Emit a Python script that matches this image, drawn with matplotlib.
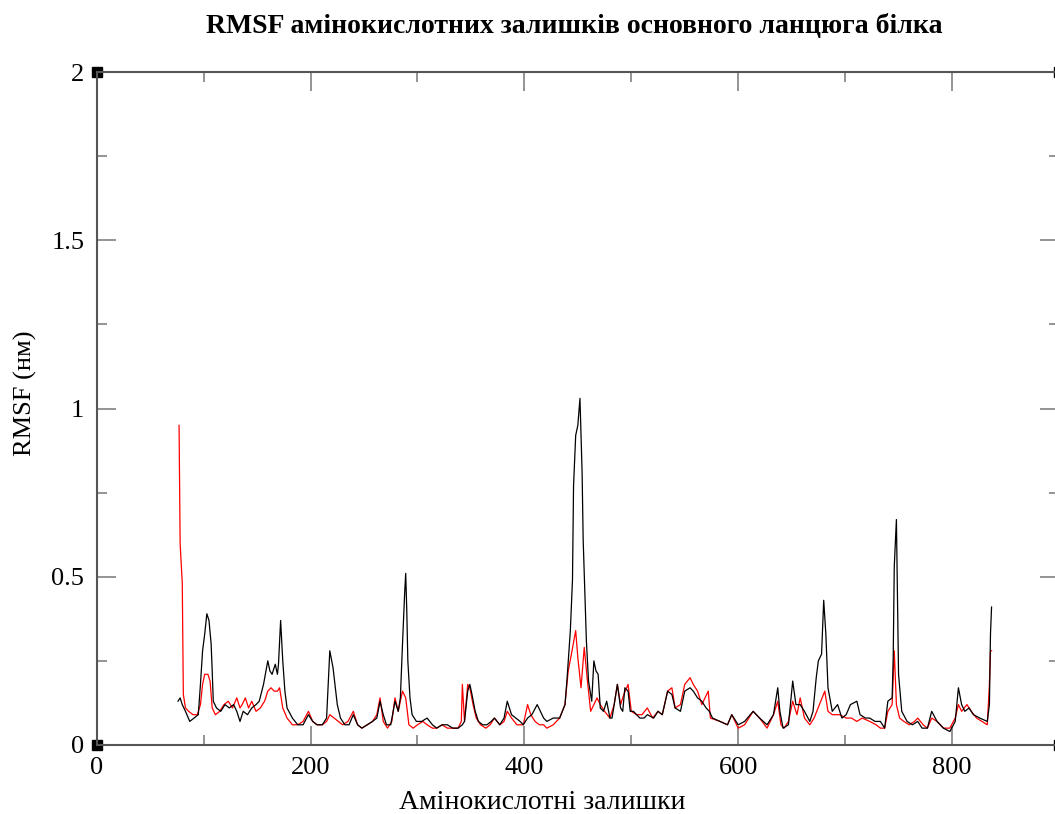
import matplotlib
matplotlib.use('Agg')
import matplotlib.pyplot as plt
from matplotlib.ticker import MultipleLocator, FuncFormatter

plt.rcParams['font.family'] = ['Liberation Serif', 'DejaVu Serif']

# RMSF, чорна крива (номер залишку, нм)
res_black = [76, 78, 80, 83, 87, 91, 95, 97, 99, 101, 103, 105, 107, 108, 109, 112, 116, 120, 124,
             128, 131, 134, 137, 141, 145, 149, 152, 156, 160, 162, 164, 167, 169, 170, 172, 174,
             176, 178, 183, 188, 193, 198, 202, 206, 211, 215, 218, 221, 225, 228, 232, 236, 240,
             244, 248, 253, 258, 262, 265, 268, 271, 275, 279, 282, 284, 286, 288, 289, 290, 291,
             293, 295, 299, 304, 309, 314, 318, 323, 328, 333, 338, 342, 344, 347, 349, 351, 354,
             357, 361, 365, 369, 372, 377, 381, 384, 388, 392, 396, 399, 403, 407, 412, 415, 418,
             421, 427, 433, 438, 440, 443, 445, 446, 448, 450, 452, 454, 455, 458, 460, 463, 465,
             467, 469, 471, 474, 477, 480, 482, 487, 490, 492, 494, 497, 499, 502, 508, 512, 515,
             521, 525, 529, 534, 538, 541, 546, 550, 555, 558, 562, 566, 570, 573, 576, 583, 590,
             594, 600, 606, 614, 620, 627, 633, 637, 639, 642, 647, 651, 654, 658, 662, 667, 670,
             673, 675, 678, 680, 682, 684, 688, 693, 697, 701, 705, 711, 714, 719, 723, 728, 733,
             737, 740, 744, 745, 746, 748, 749, 750, 753, 758, 763, 768, 772, 777, 781, 786, 792,
             798, 803, 806, 809, 812, 816, 820, 826, 833, 835, 836, 837]
rmsf_black = [0.13, 0.14, 0.12, 0.10, 0.07, 0.08, 0.09, 0.18, 0.28, 0.33, 0.39, 0.37, 0.30, 0.22,
              0.13, 0.11, 0.10, 0.12, 0.11, 0.12, 0.10, 0.07, 0.10, 0.09, 0.11, 0.12, 0.13, 0.18,
              0.25, 0.22, 0.21, 0.24, 0.21, 0.24, 0.37, 0.25, 0.16, 0.11, 0.08, 0.06, 0.06, 0.09,
              0.07, 0.06, 0.06, 0.08, 0.28, 0.23, 0.12, 0.08, 0.06, 0.06, 0.09, 0.06, 0.05, 0.06,
              0.07, 0.08, 0.13, 0.09, 0.06, 0.06, 0.13, 0.10, 0.14, 0.30, 0.45, 0.51, 0.40, 0.25,
              0.14, 0.09, 0.07, 0.07, 0.08, 0.06, 0.05, 0.06, 0.06, 0.05, 0.05, 0.06, 0.07, 0.16,
              0.18, 0.15, 0.10, 0.07, 0.06, 0.06, 0.07, 0.08, 0.06, 0.08, 0.13, 0.09, 0.08, 0.07,
              0.06, 0.08, 0.09, 0.12, 0.10, 0.08, 0.07, 0.08, 0.08, 0.12, 0.20, 0.34, 0.49, 0.77,
              0.92, 0.95, 1.03, 0.81, 0.61, 0.31, 0.19, 0.13, 0.25, 0.22, 0.21, 0.11, 0.10, 0.13,
              0.08, 0.08, 0.18, 0.11, 0.10, 0.17, 0.16, 0.10, 0.10, 0.08, 0.08, 0.09, 0.08, 0.10,
              0.09, 0.16, 0.15, 0.11, 0.10, 0.16, 0.17, 0.16, 0.14, 0.13, 0.11, 0.10, 0.08, 0.07,
              0.06, 0.09, 0.06, 0.07, 0.10, 0.08, 0.06, 0.09, 0.17, 0.10, 0.05, 0.06, 0.19, 0.12,
              0.12, 0.10, 0.07, 0.10, 0.20, 0.25, 0.27, 0.43, 0.33, 0.17, 0.10, 0.12, 0.08, 0.09,
              0.12, 0.13, 0.09, 0.08, 0.08, 0.07, 0.07, 0.05, 0.13, 0.14, 0.26, 0.53, 0.67, 0.45,
              0.21, 0.10, 0.07, 0.06, 0.07, 0.05, 0.05, 0.10, 0.07, 0.05, 0.04, 0.07, 0.17, 0.12,
              0.10, 0.11, 0.09, 0.08, 0.07, 0.12, 0.33, 0.41]

# RMSF, червона крива
res_red = [77, 78, 80, 81, 83, 86, 90, 94, 97, 99, 101, 104, 106, 108, 111, 115, 119, 123, 127,
           131, 134, 136, 139, 142, 145, 149, 153, 157, 160, 163, 166, 169, 171, 174, 178, 183,
           188, 193, 198, 202, 206, 211, 215, 218, 222, 226, 230, 235, 240, 244, 248, 253, 258,
           262, 265, 268, 272, 276, 279, 282, 286, 289, 292, 296, 300, 305, 309, 314, 318, 323,
           328, 333, 338, 341, 342, 344, 347, 349, 352, 355, 359, 364, 368, 372, 377, 381, 384,
           388, 393, 399, 403, 406, 410, 414, 418, 421, 427, 433, 438, 441, 444, 448, 450, 453,
           456, 459, 462, 465, 468, 471, 475, 480, 484, 487, 490, 493, 497, 500, 505, 510, 515,
           520, 525, 529, 534, 538, 541, 546, 550, 555, 558, 562, 566, 572, 574, 583, 590, 594,
           600, 606, 614, 620, 627, 633, 637, 640, 643, 647, 651, 655, 658, 662, 667, 671, 676,
           681, 684, 688, 695, 701, 706, 711, 716, 723, 729, 733, 737, 740, 744, 746, 748, 751,
           755, 760, 765, 768, 773, 777, 781, 786, 792, 798, 803, 806, 809, 814, 818, 823, 828,
           833, 835, 836, 837]
rmsf_red = [0.95, 0.60, 0.48, 0.15, 0.11, 0.10, 0.09, 0.09, 0.12, 0.18, 0.21, 0.21, 0.19, 0.11,
            0.09, 0.10, 0.12, 0.13, 0.11, 0.14, 0.11, 0.12, 0.14, 0.11, 0.13, 0.10, 0.11, 0.13,
            0.16, 0.17, 0.16, 0.16, 0.17, 0.11, 0.08, 0.06, 0.06, 0.07, 0.10, 0.07, 0.06, 0.06,
            0.07, 0.09, 0.08, 0.07, 0.06, 0.07, 0.10, 0.06, 0.05, 0.06, 0.07, 0.09, 0.14, 0.07,
            0.05, 0.07, 0.14, 0.10, 0.16, 0.14, 0.06, 0.05, 0.06, 0.07, 0.06, 0.05, 0.05, 0.06,
            0.05, 0.05, 0.05, 0.07, 0.18, 0.07, 0.18, 0.17, 0.12, 0.08, 0.06, 0.05, 0.06, 0.08,
            0.06, 0.07, 0.10, 0.08, 0.06, 0.06, 0.12, 0.09, 0.07, 0.06, 0.06, 0.05, 0.06, 0.08,
            0.12, 0.22, 0.27, 0.34, 0.26, 0.17, 0.29, 0.19, 0.10, 0.12, 0.14, 0.12, 0.10, 0.08,
            0.12, 0.18, 0.12, 0.15, 0.18, 0.10, 0.09, 0.09, 0.11, 0.08, 0.10, 0.09, 0.16, 0.17,
            0.11, 0.12, 0.18, 0.20, 0.18, 0.16, 0.12, 0.16, 0.08, 0.07, 0.06, 0.09, 0.05, 0.06,
            0.10, 0.08, 0.05, 0.09, 0.13, 0.06, 0.05, 0.07, 0.13, 0.09, 0.14, 0.08, 0.06, 0.08,
            0.12, 0.16, 0.10, 0.09, 0.09, 0.08, 0.08, 0.07, 0.08, 0.07, 0.06, 0.05, 0.05, 0.10,
            0.12, 0.28, 0.12, 0.08, 0.07, 0.06, 0.07, 0.08, 0.06, 0.05, 0.08, 0.07, 0.05, 0.05,
            0.08, 0.12, 0.10, 0.12, 0.10, 0.08, 0.07, 0.06, 0.18, 0.28, 0.28]

x_ticks = [0, 200, 400, 600, 800]
y_ticks = [0, 0.5, 1, 1.5, 2]

fig = plt.figure(figsize=(10.55, 8.14), dpi=100)
ax = fig.add_axes([0.0917, 0.0848, 0.912, 0.8267])

ax.plot(res_black, rmsf_black, color='black', lw=0.9, zorder=3)
ax.plot(res_red, rmsf_red, color='#ff0000', lw=0.9, zorder=2)

ax.set_xlim(0, 900)
ax.set_ylim(0, 2)
ax.set_xticks(x_ticks)
ax.set_yticks(y_ticks)
ax.xaxis.set_minor_locator(MultipleLocator(100))
ax.yaxis.set_minor_locator(MultipleLocator(0.25))
ax.yaxis.set_major_formatter(FuncFormatter(lambda v, p: '%g' % v))

for s in ax.spines.values():
    s.set_color('#555555')
    s.set_linewidth(1.5)

ax.tick_params(which='both', direction='in', top=True, right=True, color='#777777', width=1.1)
ax.tick_params(which='major', length=14, labelsize=19, pad=9)
ax.tick_params(which='minor', length=7)

# чорні квадратики в кутах, як у xmgrace
for cx, cy in [(0, 0), (0, 1), (1, 1), (1, 0)]:
    ax.plot(cx, cy, marker='s', ms=7, color='black', transform=ax.transAxes,
            clip_on=False, zorder=1)

fig.text(0.544, 1 - 27 / 814, 'RMSF амінокислотних залишків основного ланцюга білка',
         fontsize=20, fontweight='bold', ha='center', va='center')
ax.set_xlabel('Амінокислотні залишки', fontsize=20, va='center')
ax.xaxis.set_label_coords(0.463, -0.086)
ax.set_ylabel('RMSF (нм)', fontsize=19, va='center')
ax.yaxis.set_label_coords(-0.0745, 0.522)

fig.savefig('out.png', dpi=100)
